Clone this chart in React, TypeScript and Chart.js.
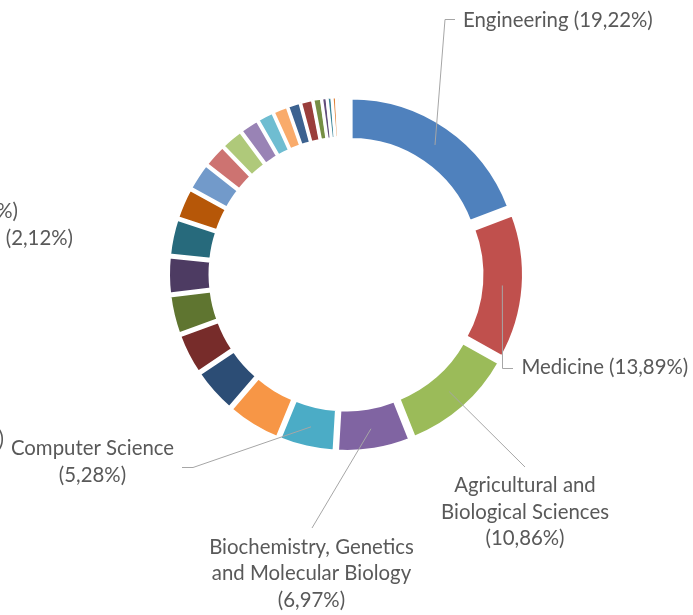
import React, { useEffect, useRef } from "react";
import { Chart, registerables, ArcElement } from "chart.js";

Chart.register(...registerables);

// ---- data ----
const categories: string[] = [
  "Engineering",
  "Medicine",
  "Agricultural and Biological Sciences",
  "Biochemistry, Genetics and Molecular Biology",
  "Computer Science",
  "Subject area 6",
  "Subject area 7",
  "Subject area 8",
  "Subject area 9",
  "Subject area 10",
  "Subject area 11",
  "Subject area 12",
  "Subject area 13",
  "Subject area 14",
  "Subject area 15",
  "Subject area 16",
  "Subject area 17",
  "Subject area 18",
  "Subject area 19",
  "Subject area 20",
  "Subject area 21",
  "Subject area 22",
  "Subject area 23",
  "Subject area 24",
  "Subject area 25",
  "Subject area 26",
  "Subject area 27",
  "Subject area 28",
];

const shares: number[] = [
  19.22, 13.89, 10.86, 6.97, 5.28, 5.1, 4.25, 3.85, 3.7, 3.5, 3.45, 2.9, 2.6,
  2.2, 2.12, 1.8, 1.55, 1.4, 1.2, 1.15, 0.8, 0.5, 0.45, 0.4, 0.3, 0.25, 0.2,
  0.11,
];

const sliceColors: string[] = [
  "#4F81BD", "#C0504D", "#9BBB59", "#8064A2", "#4BACC6", "#F79646",
  "#2C4D75", "#772C2A", "#5F7530", "#4D3B62", "#276A7C", "#B65708",
  "#729ACA", "#CD7371", "#AFC97A", "#9983B5", "#6FBDD1", "#F9AB6B",
  "#3C6290", "#9A3E3B", "#768E44", "#614C7B", "#398396", "#E0823A",
  "#95B3D7", "#D99694", "#C3D69B", "#B3A2C7",
];

// labelled slices: index, wrapped lines (the share is appended)
const labelledIndex: number[] = [0, 1, 2, 3, 4];
const labelWraps: string[][] = [
  ["Engineering"],
  ["Medicine"],
  ["Agricultural and", "Biological Sciences"],
  ["Biochemistry, Genetics", "and Molecular Biology"],
  ["Computer Science"],
];
// fragments of labels cut off by the left border
const clippedLabels: string[] = ["%)", "(2,12%)", ")"];

// ---- layout (positions / styles) ----
const W = 693;
const H = 615;
const TEXT_COLOR = "#595959";
const LINE_COLOR = "#A6A6A6";
const LINE_H = 26.5;
const FONT_FAMILY = 'Lato, "Liberation Sans", sans-serif';
const EXPLODE = 9; // radial explosion of every slice, px
const OUTER_R = 168.5;
const INNER_R = 127;

type LabelLayout = {
  x: number;
  y: number; // first baseline
  align: CanvasTextAlign;
  inline: boolean;
  path: [number, number][];
};

const labelLayouts: LabelLayout[] = [
  { x: 463, y: 26.5, align: "left", inline: true, path: [[445, 19.5], [455, 19.5]] },
  { x: 521.5, y: 374, align: "left", inline: true, path: [[502.5, 368.5], [513, 368.5]] },
  { x: 525, y: 492, align: "center", inline: false, path: [[525, 467]] },
  { x: 311.5, y: 553.5, align: "center", inline: false, path: [[312, 528]] },
  { x: 92.5, y: 455, align: "center", inline: false, path: [[193, 467.5], [182, 467.5]] },
];

const clippedLayouts: { x: number; y: number }[] = [
  { x: 18, y: 218 },
  { x: 73, y: 245 },
  { x: 4, y: 446 },
];

const fmtShare = (v: number) => `(${v.toFixed(2).replace(".", ",")}%)`;

// Arc element that is pushed outward along its bisector (Excel "explosion")
class ExplodedArc extends (ArcElement as any) {
  static id = "explodedArc";
  draw(ctx: CanvasRenderingContext2D) {
    const self = this as any;
    const mid = (self.startAngle + self.endAngle) / 2;
    ctx.save();
    ctx.translate(Math.cos(mid) * EXPLODE, Math.sin(mid) * EXPLODE);
    super.draw(ctx);
    ctx.restore();
  }
}
Chart.register(ExplodedArc as any);
(Chart.defaults as any).datasets.doughnut.dataElementType = "explodedArc";

const leaderPlugin = {
  id: "leaderLabels",
  afterDatasetsDraw(chart: any) {
    const ctx: CanvasRenderingContext2D = chart.ctx;
    const meta = chart.getDatasetMeta(0);
    ctx.save();
    ctx.font = `100px ${FONT_FAMILY}`;
    const ref = ctx.measureText(`${categories[0]} ${fmtShare(shares[0])}`).width;
    const fs = Math.min(24, (100 * 190) / ref);
    ctx.font = `${fs}px ${FONT_FAMILY}`;
    ctx.fillStyle = TEXT_COLOR;
    ctx.strokeStyle = LINE_COLOR;
    ctx.lineWidth = 1;
    ctx.textBaseline = "alphabetic";

    labelledIndex.forEach((idx, k) => {
      const lay = labelLayouts[k];
      const arc = meta.data[idx];
      const mid = (arc.startAngle + arc.endAngle) / 2;
      const r = (arc.innerRadius + arc.outerRadius) / 2 + EXPLODE;
      const px = arc.x + Math.cos(mid) * r;
      const py = arc.y + Math.sin(mid) * r;
      ctx.beginPath();
      ctx.moveTo(px, py);
      lay.path.forEach(([x, y]) => ctx.lineTo(x, y));
      ctx.stroke();

      const lines = [...labelWraps[k]];
      const share = fmtShare(shares[idx]);
      if (lay.inline) lines[lines.length - 1] += " " + share;
      else lines.push(share);
      ctx.textAlign = lay.align;
      lines.forEach((t, i) => ctx.fillText(t, lay.x, lay.y + i * LINE_H));
    });

    ctx.textAlign = "right";
    clippedLabels.forEach((t, i) => {
      const c = clippedLayouts[i];
      ctx.fillText(t, c.x, c.y);
    });
    ctx.restore();
  },
};

export default function App() {
  const ref = useRef<HTMLCanvasElement | null>(null);

  useEffect(() => {
    if (!ref.current) return;
    const chart = new Chart(ref.current, {
      type: "doughnut",
      data: {
        labels: categories,
        datasets: [
          {
            data: shares,
            backgroundColor: sliceColors,
            borderColor: "#FFFFFF",
            borderWidth: 3,
          },
        ],
      },
      options: {
        responsive: false,
        animation: false,
        radius: OUTER_R,
        cutout: `${(INNER_R / OUTER_R) * 100}%`,
        layout: { padding: { left: 0, right: 1, top: 0, bottom: 67 } },
        plugins: {
          legend: { display: false },
          tooltip: { enabled: false },
        },
      } as any,
      plugins: [leaderPlugin],
    });
    return () => chart.destroy();
  }, []);

  return (
    <div style={{ position: "absolute", left: 0, top: 0, width: W, height: H, background: "#fff" }}>
      <canvas ref={ref} width={W} height={H} style={{ display: "block" }} />
    </div>
  );
}
